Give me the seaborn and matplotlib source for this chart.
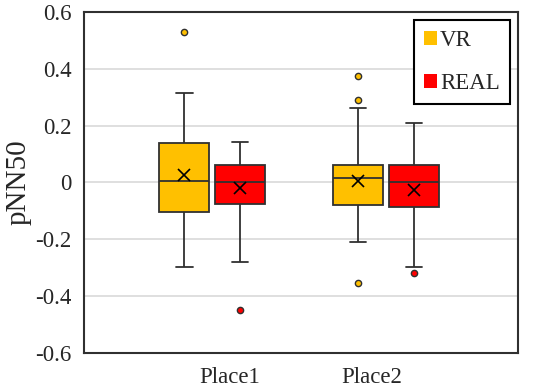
import numpy as np
import pandas as pd
import seaborn as sns
import matplotlib.pyplot as plt

places = ["Place1", "Place2"]
groups = ["VR", "REAL"]
colors = ["#FFC000", "#FF0000"]

# pNN50 samples read back from the box plots (21 per box)
place1_vr = [-0.296, -0.25, -0.20, -0.16, -0.12, -0.104, -0.09, -0.06, -0.03, -0.01, 0.005,
             0.02, 0.05, 0.08, 0.11, 0.138, 0.16, 0.20, 0.259, 0.315, 0.529]
place1_real = [-0.45, -0.28, -0.12, -0.10, -0.08, -0.077, -0.02, -0.01, -0.005, 0.0, 0.0,
               0.04, 0.05, 0.055, 0.06, 0.061, 0.07, 0.08, 0.09, 0.094, 0.143]
place2_vr = [-0.353, -0.209, -0.19, -0.15, -0.10, -0.08, -0.06, -0.03, -0.01, 0.01, 0.017,
             0.02, 0.03, 0.04, 0.05, 0.06, 0.062, 0.07, 0.261, 0.291, 0.376]
place2_real = [-0.32, -0.297, -0.25, -0.18, -0.12, -0.088, -0.07, -0.05, -0.03, -0.01, 0.0,
               0.01, 0.03, 0.045, 0.06, 0.063, 0.07, 0.09, 0.11, 0.14, 0.209]

yticks = [0.6, 0.4, 0.2, 0, -0.2, -0.4, -0.6]
ytick_labels = ["0.6", "0.4", "0.2", "0", "-0.2", "-0.4", "-0.6"]

samples = {("Place1", "VR"): place1_vr, ("Place1", "REAL"): place1_real,
           ("Place2", "VR"): place2_vr, ("Place2", "REAL"): place2_real}
rows = []
for (place, group), vals in samples.items():
    for v in vals:
        rows.append({"place": place, "group": group, "pNN50": v})
df = pd.DataFrame(rows)

sns.set_style("white")
plt.rcParams["font.family"] = ["Liberation Serif", "DejaVu Serif"]

fig = plt.figure(figsize=(5.5, 3.92), dpi=100)
ax = fig.add_axes([0.153, 0.0995, 0.789, 0.87])

for y in [0.4, 0.2, 0, -0.2, -0.4]:
    ax.axhline(y, color="#d9d9d9", lw=1.2, zorder=0)

sns.boxplot(data=df, x="place", y="pNN50", hue="group", order=places, hue_order=groups,
            palette=colors, width=0.64, gap=0.1, linecolor="#303030", linewidth=1.3,
            showmeans=True, saturation=1,
            meanprops=dict(marker="x", markeredgecolor="black", markersize=9, markeredgewidth=1.2),
            flierprops=dict(marker="o", markersize=4.5, markeredgecolor="#303030"),
            medianprops=dict(color="#303030", linewidth=1.3),
            ax=ax, zorder=2)

for cont, c in zip(ax.containers, colors):
    for f in cont.fliers:
        f.set_markerfacecolor(c)
    for cap in cont.caps:
        xd = cap.get_xdata()
        mid = (xd[0] + xd[1]) / 2
        cap.set_xdata([mid - 0.047, mid + 0.047])

ax.set_xlim(-0.737, 1.76)
ax.set_ylim(-0.6, 0.6)
ax.set_yticks(yticks)
ax.set_yticklabels(ytick_labels)
ax.set_xticks([0.1, 0.92])
ax.set_xticklabels(places)
ax.set_xlabel("")
ax.set_ylabel("pNN50", fontsize=21, labelpad=3)
ax.tick_params(axis="both", labelsize=16.5, length=0)
ax.tick_params(axis="y", pad=9)
ax.tick_params(axis="x", pad=10)
for s in ax.spines.values():
    s.set_color("#303030")
    s.set_linewidth(1.5)

handles, labels = ax.get_legend_handles_labels()
for h in handles:
    h.set_edgecolor("none")
leg = ax.legend(handles, labels, loc="upper right", fontsize=16.5, handlelength=0.55,
                handleheight=0.55, handletextpad=0.15, labelspacing=0.95, borderpad=0.45,
                borderaxespad=0.35, fancybox=False, edgecolor="black", framealpha=1)
leg.get_frame().set_linewidth(1.5)

fig.savefig("out.png", dpi=100)
